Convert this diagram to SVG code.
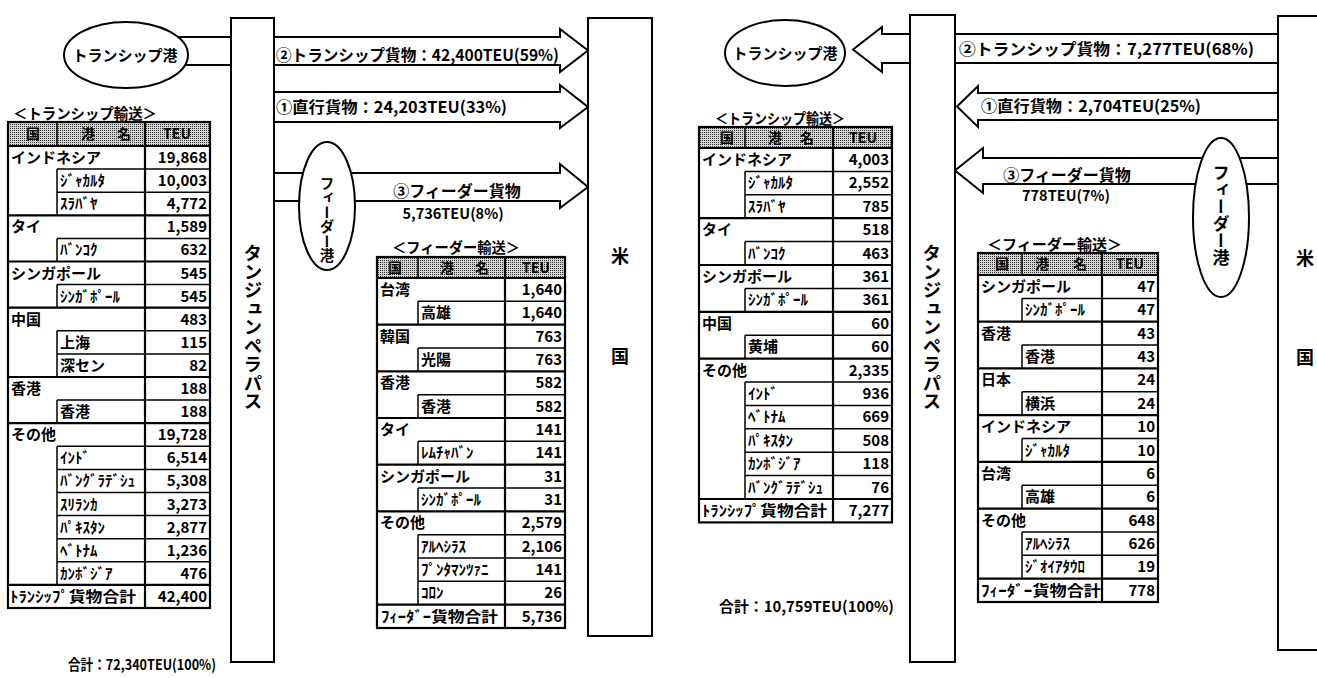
<svg xmlns="http://www.w3.org/2000/svg" width="1317" height="678" viewBox="0 0 1317 678">
<style>
text{font-family:"Noto Sans CJK JP","Noto Sans CJK SC",sans-serif;font-weight:bold;fill:#000}
.c{font-size:15px}
.v{font-size:15px;text-anchor:end}
.h{font-size:14px;text-anchor:middle}
.ttl{font-size:14.5px}
.lb{font-size:16px}
.sm{font-size:14.5px}
.mid{text-anchor:middle}
.vt{writing-mode:vertical-rl}
.thick{stroke:#000;stroke-width:2.2;fill:none}
.thin{stroke:#000;stroke-width:1.5;fill:none}
.box{fill:#fff;stroke:#000;stroke-width:2}
.frame{fill:none;stroke:#000;stroke-width:2.2}
.arrow{fill:#fff;stroke:#000;stroke-width:2;stroke-linejoin:miter}
</style>
<defs>
<pattern id="st" width="2" height="2" patternUnits="userSpaceOnUse"><rect width="2" height="2" fill="#d4d4d4"/><rect width="1" height="1" fill="#333"/></pattern>
</defs>
<rect width="1317" height="678" fill="#fff"/>

<g id="connectors">
<polygon class="arrow" points="172,37 560,37 560,29 588,50.5 560,72 560,65 172,65"/>
<polygon class="arrow" points="250,92 560,92 560,85 588,107 560,128 560,122 250,122"/>
<polygon class="arrow" points="250,173 560,173 560,164 588,187 560,208 560,201 250,201"/>
<polygon class="arrow" points="853,49.5 882,27 882,34 1300,34 1300,63 882,63 882,72"/>
<polygon class="arrow" points="957,106.5 978,86 978,93 1300,93 1300,120 978,120 978,127"/>
<polygon class="arrow" points="955,170.5 983,148 983,158 1300,158 1300,184 983,184 983,193"/>
</g>

<g id="arrow-labels">
<text class="lb" x="276" y="61" textLength="283" lengthAdjust="spacingAndGlyphs">②トランシップ貨物：42,400TEU(59%)</text>
<text class="lb" x="276" y="113" textLength="231" lengthAdjust="spacingAndGlyphs">①直行貨物：24,203TEU(33%)</text>
<text class="lb mid" x="457" y="197">③フィーダー貨物</text>
<text class="sm mid" x="453" y="219">5,736TEU(8%)</text>
<text class="lb" x="959" y="55" textLength="295" lengthAdjust="spacingAndGlyphs">②トランシップ貨物：7,277TEU(68%)</text>
<text class="lb" x="981" y="112" textLength="220" lengthAdjust="spacingAndGlyphs">①直行貨物：2,704TEU(25%)</text>
<text class="lb mid" x="1067" y="181">③フィーダー貨物</text>
<text class="sm mid" x="1066" y="201">778TEU(7%)</text>
</g>

<g id="left-transship-port">
<ellipse class="box" cx="126" cy="55" rx="62" ry="33"/>
<text class="mid" x="125" y="61" style="font-size:15px">トランシップ港</text>
</g>
<g id="left-feeder-port">
<ellipse class="box" cx="327" cy="206" rx="28" ry="64"/>
<text class="vt" x="327" y="176" style="font-size:14.5px">フィーダー港</text>
</g>
<g id="left-tanjung">
<rect class="box" x="231" y="18" width="43" height="644"/>
<text class="vt" x="253" y="244" style="font-size:18.5px">タンジュンペラパス</text>
</g>
<g id="left-us">
<rect class="box" x="588" y="18" width="64" height="618"/>
<text class="mid" x="620" y="263" style="font-size:18px">米</text>
<text class="mid" x="620" y="363" style="font-size:18px">国</text>
</g>

<g id="right-transship-port">
<ellipse class="box" cx="785" cy="53" rx="60" ry="33"/>
<text class="mid" x="785" y="59" style="font-size:15px">トランシップ港</text>
</g>
<g id="right-feeder-port">
<ellipse class="box" cx="1221" cy="217.5" rx="28" ry="79.5"/>
<text class="vt" x="1221" y="164" style="font-size:17px">フィーダー港</text>
</g>
<g id="right-tanjung">
<rect class="box" x="910" y="15" width="45" height="647"/>
<text class="vt" x="932" y="244" style="font-size:18.5px">タンジュンペラパス</text>
</g>
<g id="right-us">
<rect class="box" x="1278" y="16" width="60" height="634"/>
<text class="mid" x="1305" y="265" style="font-size:18px">米</text>
<text class="mid" x="1305" y="364" style="font-size:18px">国</text>
</g>

<g id="table-left-transship">
<text class="ttl" x="13" y="119" textLength="144" lengthAdjust="spacingAndGlyphs">＜トランシップ輸送＞</text>
<rect x="8" y="122" width="202" height="24" fill="url(#st)"/>
<path class="thick" d="M8,146H210M8,215.3H210M8,261.5H210M8,307.7H210M8,377H210M8,423.2H210M8,584.9H210M145,122V608"/>
<path class="thin" d="M57,122V146M57,169.1H210M57,192.2H210M57,238.4H210M57,284.6H210M57,330.8H210M57,353.9H210M57,400.1H210M57,446.3H210M57,469.4H210M57,492.5H210M57,515.6H210M57,538.7H210M57,561.8H210M57,169.1V215.3M57,238.4V261.5M57,284.6V307.7M57,330.8V377M57,400.1V423.2M57,446.3V584.9"/>
<rect class="frame" x="8" y="122" width="202" height="486"/>
<text class="h" x="33" y="139">国</text><text class="h" x="88" y="139">港</text><text class="h" x="124" y="139">名</text><text class="h" x="177" y="139">TEU</text>
<text class="c" x="11" y="163">インドネシア</text><text class="v" x="207" y="163">19,868</text>
<text class="c" x="60" y="186.1">ｼﾞｬｶﾙﾀ</text><text class="v" x="207" y="186.1">10,003</text>
<text class="c" x="60" y="209.2">ｽﾗﾊﾞﾔ</text><text class="v" x="207" y="209.2">4,772</text>
<text class="c" x="11" y="232.3">タイ</text><text class="v" x="207" y="232.3">1,589</text>
<text class="c" x="60" y="255.4">ﾊﾞﾝｺｸ</text><text class="v" x="207" y="255.4">632</text>
<text class="c" x="11" y="278.5">シンガポール</text><text class="v" x="207" y="278.5">545</text>
<text class="c" x="60" y="301.6">ｼﾝｶﾞﾎﾟｰﾙ</text><text class="v" x="207" y="301.6">545</text>
<text class="c" x="11" y="324.7">中国</text><text class="v" x="207" y="324.7">483</text>
<text class="c" x="60" y="347.8">上海</text><text class="v" x="207" y="347.8">115</text>
<text class="c" x="60" y="370.9">深セン</text><text class="v" x="207" y="370.9">82</text>
<text class="c" x="11" y="394">香港</text><text class="v" x="207" y="394">188</text>
<text class="c" x="60" y="417.1">香港</text><text class="v" x="207" y="417.1">188</text>
<text class="c" x="11" y="440.2">その他</text><text class="v" x="207" y="440.2">19,728</text>
<text class="c" x="60" y="463.3">ｲﾝﾄﾞ</text><text class="v" x="207" y="463.3">6,514</text>
<text class="c" x="60" y="486.4">ﾊﾞﾝｸﾞﾗﾃﾞｼｭ</text><text class="v" x="207" y="486.4">5,308</text>
<text class="c" x="60" y="509.5">ｽﾘﾗﾝｶ</text><text class="v" x="207" y="509.5">3,273</text>
<text class="c" x="60" y="532.6">ﾊﾟｷｽﾀﾝ</text><text class="v" x="207" y="532.6">2,877</text>
<text class="c" x="60" y="555.7">ﾍﾞﾄﾅﾑ</text><text class="v" x="207" y="555.7">1,236</text>
<text class="c" x="60" y="578.8">ｶﾝﾎﾞｼﾞｱ</text><text class="v" x="207" y="578.8">476</text>
<text class="c" x="10" y="601.9" textLength="126" lengthAdjust="spacingAndGlyphs">ﾄﾗﾝｼｯﾌﾟ貨物合計</text><text class="v" x="207" y="601.9">42,400</text>
</g>

<g id="table-left-feeder">
<text class="ttl" x="392" y="253" textLength="128" lengthAdjust="spacingAndGlyphs">＜フィーダー輸送＞</text>
<rect x="377" y="257" width="188" height="21" fill="url(#st)"/>
<path class="thick" d="M377,278H565M377,324.7H565M377,371.3H565M377,418H565M377,464.7H565M377,511.3H565M377,604.7H565M505,257V628"/>
<path class="thin" d="M418,257V278M418,301.3H565M418,348H565M418,394.7H565M418,441.3H565M418,488H565M418,534.7H565M418,558H565M418,581.3H565M418,301.3V324.7M418,348V371.3M418,394.7V418M418,441.3V464.7M418,488V511.3M418,534.7V604.7"/>
<rect class="frame" x="377" y="257" width="188" height="371"/>
<text class="h" x="395" y="273">国</text><text class="h" x="447" y="273">港</text><text class="h" x="482" y="273">名</text><text class="h" x="536" y="273">TEU</text>
<text class="c" x="380" y="295">台湾</text><text class="v" x="562" y="295">1,640</text>
<text class="c" x="421" y="318.3">高雄</text><text class="v" x="562" y="318.3">1,640</text>
<text class="c" x="380" y="341.7">韓国</text><text class="v" x="562" y="341.7">763</text>
<text class="c" x="421" y="365">光陽</text><text class="v" x="562" y="365">763</text>
<text class="c" x="380" y="388.3">香港</text><text class="v" x="562" y="388.3">582</text>
<text class="c" x="421" y="411.7">香港</text><text class="v" x="562" y="411.7">582</text>
<text class="c" x="380" y="435">タイ</text><text class="v" x="562" y="435">141</text>
<text class="c" x="421" y="458.3">ﾚﾑﾁｬﾊﾞﾝ</text><text class="v" x="562" y="458.3">141</text>
<text class="c" x="380" y="481.7">シンガポール</text><text class="v" x="562" y="481.7">31</text>
<text class="c" x="421" y="505">ｼﾝｶﾞﾎﾟｰﾙ</text><text class="v" x="562" y="505">31</text>
<text class="c" x="380" y="528.3">その他</text><text class="v" x="562" y="528.3">2,579</text>
<text class="c" x="421" y="551.7">ｱﾙﾍｼﾗｽ</text><text class="v" x="562" y="551.7">2,106</text>
<text class="c" x="421" y="575">ﾌﾟﾝﾀﾏﾝﾂｧﾆ</text><text class="v" x="562" y="575">141</text>
<text class="c" x="421" y="598.3">ｺﾛﾝ</text><text class="v" x="562" y="598.3">26</text>
<text class="c" x="381" y="621.7" textLength="117" lengthAdjust="spacingAndGlyphs">ﾌｨｰﾀﾞｰ貨物合計</text><text class="v" x="562" y="621.7">5,736</text>
</g>

<g id="table-right-transship">
<text class="ttl" x="715" y="124" textLength="130" lengthAdjust="spacingAndGlyphs">＜トランシップ輸送＞</text>
<rect x="699" y="127" width="193" height="21" fill="url(#st)"/>
<path class="thick" d="M699,148H892M699,218.2H892M699,265H892M699,311.8H892M699,358.6H892M699,499H892M833,127V522.4"/>
<path class="thin" d="M745,127V148M745,171.4H892M745,194.8H892M745,241.6H892M745,288.4H892M745,335.2H892M745,382H892M745,405.4H892M745,428.8H892M745,452.2H892M745,475.6H892M745,171.4V218.2M745,241.6V265M745,288.4V311.8M745,335.2V358.6M745,382V499"/>
<rect class="frame" x="699" y="127" width="193" height="395.4"/>
<text class="h" x="727" y="143">国</text><text class="h" x="775" y="143">港</text><text class="h" x="807" y="143">名</text><text class="h" x="863" y="143">TEU</text>
<text class="c" x="702" y="165">インドネシア</text><text class="v" x="889" y="165">4,003</text>
<text class="c" x="748" y="188.4">ｼﾞｬｶﾙﾀ</text><text class="v" x="889" y="188.4">2,552</text>
<text class="c" x="748" y="211.8">ｽﾗﾊﾞﾔ</text><text class="v" x="889" y="211.8">785</text>
<text class="c" x="702" y="235.2">タイ</text><text class="v" x="889" y="235.2">518</text>
<text class="c" x="748" y="258.6">ﾊﾞﾝｺｸ</text><text class="v" x="889" y="258.6">463</text>
<text class="c" x="702" y="282">シンガポール</text><text class="v" x="889" y="282">361</text>
<text class="c" x="748" y="305.4">ｼﾝｶﾞﾎﾟｰﾙ</text><text class="v" x="889" y="305.4">361</text>
<text class="c" x="702" y="328.8">中国</text><text class="v" x="889" y="328.8">60</text>
<text class="c" x="748" y="352.2">黄埔</text><text class="v" x="889" y="352.2">60</text>
<text class="c" x="702" y="375.6">その他</text><text class="v" x="889" y="375.6">2,335</text>
<text class="c" x="748" y="399">ｲﾝﾄﾞ</text><text class="v" x="889" y="399">936</text>
<text class="c" x="748" y="422.4">ﾍﾞﾄﾅﾑ</text><text class="v" x="889" y="422.4">669</text>
<text class="c" x="748" y="445.8">ﾊﾟｷｽﾀﾝ</text><text class="v" x="889" y="445.8">508</text>
<text class="c" x="748" y="469.2">ｶﾝﾎﾞｼﾞｱ</text><text class="v" x="889" y="469.2">118</text>
<text class="c" x="748" y="492.6">ﾊﾞﾝｸﾞﾗﾃﾞｼｭ</text><text class="v" x="889" y="492.6">76</text>
<text class="c" x="702" y="516" textLength="125" lengthAdjust="spacingAndGlyphs">ﾄﾗﾝｼｯﾌﾟ貨物合計</text><text class="v" x="889" y="516">7,277</text>
</g>

<g id="table-right-feeder">
<text class="ttl" x="987" y="250" textLength="135" lengthAdjust="spacingAndGlyphs">＜フィーダー輸送＞</text>
<rect x="978" y="253" width="180" height="22" fill="url(#st)"/>
<path class="thick" d="M978,275H1158M978,321.7H1158M978,368.4H1158M978,415.2H1158M978,461.9H1158M978,508.6H1158M978,578.7H1158M1102,253V602"/>
<path class="thin" d="M1022,253V275M1022,298.4H1158M1022,345.1H1158M1022,391.8H1158M1022,438.5H1158M1022,485.2H1158M1022,532H1158M1022,555.3H1158M1022,298.4V321.7M1022,345.1V368.4M1022,391.8V415.2M1022,438.5V461.9M1022,485.2V508.6M1022,532V578.7"/>
<rect class="frame" x="978" y="253" width="180" height="349"/>
<text class="h" x="1002" y="269">国</text><text class="h" x="1042" y="269">港</text><text class="h" x="1080" y="269">名</text><text class="h" x="1130" y="269">TEU</text>
<text class="c" x="981" y="292">シンガポール</text><text class="v" x="1155" y="292">47</text>
<text class="c" x="1025" y="315.4">ｼﾝｶﾞﾎﾟｰﾙ</text><text class="v" x="1155" y="315.4">47</text>
<text class="c" x="981" y="338.7">香港</text><text class="v" x="1155" y="338.7">43</text>
<text class="c" x="1025" y="362.1">香港</text><text class="v" x="1155" y="362.1">43</text>
<text class="c" x="981" y="385.4">日本</text><text class="v" x="1155" y="385.4">24</text>
<text class="c" x="1025" y="408.8">横浜</text><text class="v" x="1155" y="408.8">24</text>
<text class="c" x="981" y="432.2">インドネシア</text><text class="v" x="1155" y="432.2">10</text>
<text class="c" x="1025" y="455.5">ｼﾞｬｶﾙﾀ</text><text class="v" x="1155" y="455.5">10</text>
<text class="c" x="981" y="478.9">台湾</text><text class="v" x="1155" y="478.9">6</text>
<text class="c" x="1025" y="502.2">高雄</text><text class="v" x="1155" y="502.2">6</text>
<text class="c" x="981" y="525.6">その他</text><text class="v" x="1155" y="525.6">648</text>
<text class="c" x="1025" y="549">ｱﾙﾍｼﾗｽ</text><text class="v" x="1155" y="549">626</text>
<text class="c" x="1025" y="572.3">ｼﾞｵｲｱﾀｳﾛ</text><text class="v" x="1155" y="572.3">19</text>
<text class="c" x="981" y="595.7" textLength="120" lengthAdjust="spacingAndGlyphs">ﾌｨｰﾀﾞｰ貨物合計</text><text class="v" x="1155" y="595.7">778</text>
</g>

<g id="totals">
<text x="68" y="670" style="font-size:14.5px" textLength="148" lengthAdjust="spacingAndGlyphs">合計：72,340TEU(100%)</text>
<text x="719" y="612" style="font-size:15px" textLength="175" lengthAdjust="spacingAndGlyphs">合計：10,759TEU(100%)</text>
</g>
</svg>
